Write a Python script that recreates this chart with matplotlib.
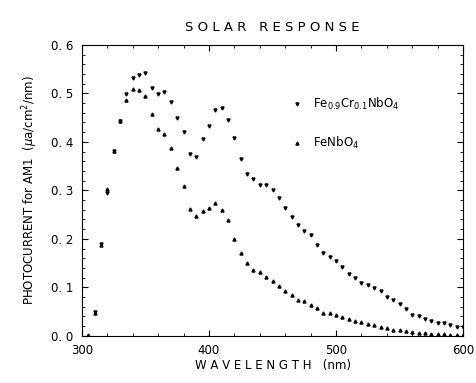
import numpy as np
import matplotlib
matplotlib.use('Agg')
from matplotlib import pyplot as plt
from matplotlib.ticker import MultipleLocator

# wavelength (nm)
wl_fe = np.arange(305, 601, 5)
fe_nbo4 = [0.002, 0.048, 0.188, 0.302, 0.381, 0.442, 0.486, 0.508, 0.506, 0.495,
           0.458, 0.427, 0.417, 0.387, 0.347, 0.309, 0.262, 0.248, 0.258, 0.263,
           0.274, 0.260, 0.239, 0.200, 0.171, 0.150, 0.136, 0.131, 0.122, 0.114,
           0.102, 0.092, 0.084, 0.074, 0.071, 0.063, 0.057, 0.047, 0.047, 0.043,
           0.039, 0.035, 0.030, 0.028, 0.025, 0.022, 0.019, 0.016, 0.013, 0.012,
           0.010, 0.009, 0.006, 0.005, 0.004, 0.003, 0.003, 0.002, 0.002, 0.002]

wl_cr = np.arange(310, 601, 5)
fe_cr_nbo4 = [0.050, 0.190, 0.295, 0.381, 0.443, 0.499, 0.531, 0.538, 0.541, 0.512,
              0.498, 0.502, 0.483, 0.450, 0.420, 0.374, 0.369, 0.405, 0.432, 0.465,
              0.470, 0.445, 0.408, 0.364, 0.334, 0.324, 0.311, 0.311, 0.300, 0.284,
              0.264, 0.245, 0.228, 0.217, 0.207, 0.187, 0.171, 0.162, 0.154, 0.141,
              0.128, 0.119, 0.110, 0.105, 0.098, 0.092, 0.081, 0.073, 0.066, 0.056,
              0.044, 0.040, 0.034, 0.030, 0.026, 0.026, 0.022, 0.019, 0.019]

fig = plt.figure(figsize=(4.76, 3.83), dpi=100)
ax = fig.add_axes([0.172, 0.123, 0.801, 0.760])

ax.plot(wl_cr, fe_cr_nbo4, 'v', color='black', markersize=2.2,
        label=r'Fe$_{0.9}$Cr$_{0.1}$NbO$_4$')
ax.plot(wl_fe, fe_nbo4, '^', color='black', markersize=2.2,
        label=r'FeNbO$_4$')

ax.set_xlim(300, 600)
ax.set_ylim(0, 0.6)
ax.xaxis.set_major_locator(MultipleLocator(100))
ax.xaxis.set_minor_locator(MultipleLocator(20))
ax.yaxis.set_minor_locator(MultipleLocator(0.02))
ax.set_yticks(np.arange(0, 0.61, 0.1))
ax.set_yticklabels(['0. 0', '0. 1', '0. 2', '0. 3', '0. 4', '0. 5', '0. 6'])
ax.tick_params(which='both', direction='in', top=True, right=True, labelsize=8.5)
ax.tick_params(which='major', length=4, pad=6)
ax.tick_params(which='minor', length=2)

ax.set_title('S O L A R   R E S P O N S E', fontsize=9.5, pad=10)
ax.set_xlabel('W A V E L E N G T H   (nm)', fontsize=8.5, labelpad=1)
ax.set_ylabel(r'PHOTOCURRENT for AM1  ($\mu$a/cm$^2$/nm)', fontsize=8.5, labelpad=8)

ax.legend(loc='upper left', bbox_to_anchor=(0.505, 0.86), frameon=False,
          fontsize=8.5, handletextpad=0.4, labelspacing=1.9, markerscale=1.0)

plt.savefig('out.png', dpi=100)
